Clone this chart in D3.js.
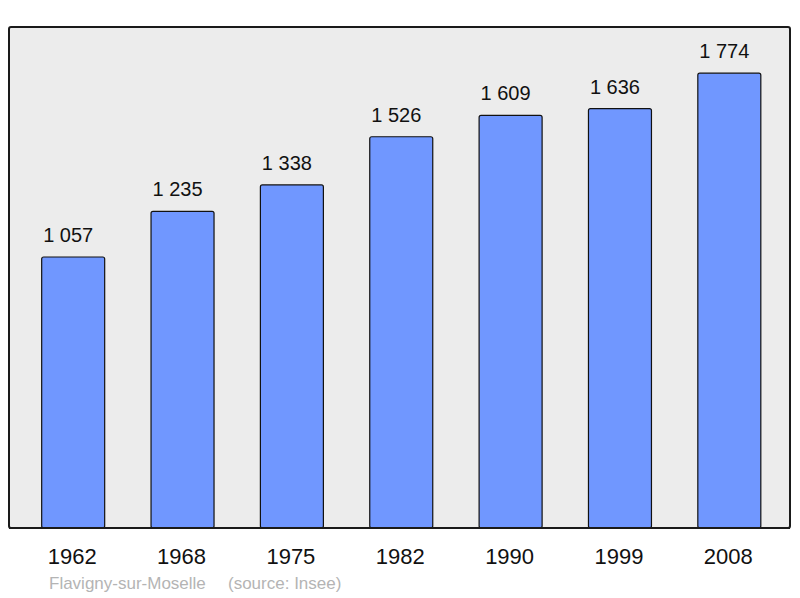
<!DOCTYPE html>
<meta charset="utf-8">
<style>
  body { margin: 0; background: #fff; }
  svg { display: block; font-family: "Liberation Sans", Arial, sans-serif; }
</style>
<body>
<div id="chart"></div>
<script src="https://d3js.org/d3.v7.min.js"></script>
<script>
  // population per census year
  var years = ["1962", "1968", "1975", "1982", "1990", "1999", "2008"];
  var population = [1057, 1235, 1338, 1526, 1609, 1636, 1774];
  var valueLabels = ["1 057", "1 235", "1 338", "1 526", "1 609", "1 636", "1 774"];
  var townName = "Flavigny-sur-Moselle";
  var sourceText = "(source: Insee)";

  var width = 800, height = 598;
  var panel = {left: 9, top: 27, right: 790, bottom: 528};

  var svg = d3.select("#chart").append("svg")
    .attr("width", width)
    .attr("height", height);

  var x = d3.scaleBand()
    .domain(years)
    .range([18.5, 784])
    .padding(0);

  var barWidth = 63;

  var y = d3.scaleLinear()
    .domain([0, 1954])
    .range([panel.bottom, panel.top]);

  svg.append("rect")
    .attr("x", panel.left)
    .attr("y", panel.top)
    .attr("width", panel.right - panel.left)
    .attr("height", panel.bottom - panel.top)
    .attr("rx", 2)
    .attr("fill", "#ececec")
    .attr("stroke", "#1a1a1a")
    .attr("stroke-width", 2);

  var data = years.map(function(yr, i) {
    return {year: yr, value: population[i], label: valueLabels[i]};
  });

  svg.append("g").selectAll("rect")
    .data(data)
    .enter().append("rect")
    .attr("x", d => x(d.year) + x.bandwidth() / 2 - barWidth / 2)
    .attr("y", d => y(d.value))
    .attr("width", barWidth)
    .attr("height", d => panel.bottom - y(d.value))
    .attr("rx", 2)
    .attr("fill", "#7097ff")
    .attr("stroke", "#111")
    .attr("stroke-width", 1.2);

  // redraw baseline over bar bottoms
  svg.append("line")
    .attr("x1", panel.left)
    .attr("x2", panel.right)
    .attr("y1", panel.bottom)
    .attr("y2", panel.bottom)
    .attr("stroke", "#1a1a1a")
    .attr("stroke-width", 2);

  // value labels sit a little left of the bar centre
  svg.append("g").selectAll("text")
    .data(data)
    .enter().append("text")
    .attr("x", d => x(d.year) + x.bandwidth() / 2 - 5)
    .attr("y", d => y(d.value) - 15)
    .attr("text-anchor", "middle")
    .attr("font-size", 20)
    .attr("fill", "#111")
    .text(d => d.label);

  svg.append("g").selectAll("text")
    .data(data)
    .enter().append("text")
    .attr("x", d => x(d.year) + x.bandwidth() / 2 - 1)
    .attr("y", 564)
    .attr("text-anchor", "middle")
    .attr("font-size", 22)
    .attr("fill", "#111")
    .text(d => d.year);

  svg.append("text")
    .attr("x", 49)
    .attr("y", 589)
    .attr("font-size", 17)
    .attr("fill", "#b4b4b4")
    .text(townName);

  svg.append("text")
    .attr("x", 228)
    .attr("y", 589)
    .attr("font-size", 17)
    .attr("fill", "#b4b4b4")
    .text(sourceText);
</script>
</body>
